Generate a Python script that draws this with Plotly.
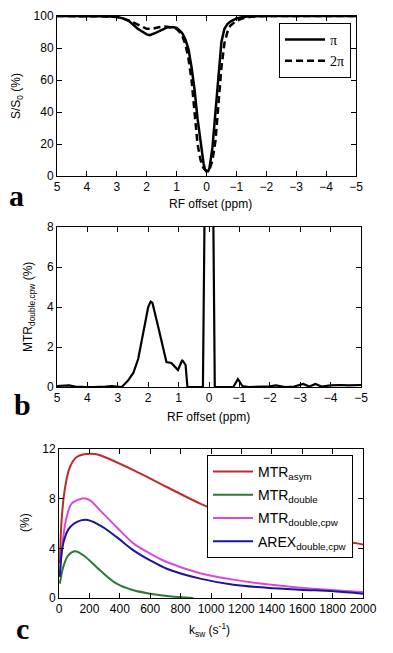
import plotly.graph_objects as go

# ---------- Panel a: Z-spectra ----------
a_ppm_pi = [5, 4, 3.5, 3.0, 2.8, 2.6, 2.3, 2.0, 1.9, 1.7, 1.5, 1.3, 1.1, 1.0, 0.9, 0.8, 0.7,
            0.6, 0.5, 0.4, 0.3, 0.2, 0.1, 0.05, 0.0, -0.05, -0.1, -0.2, -0.3, -0.4, -0.5,
            -0.6, -0.7, -0.8, -1.0, -1.2, -1.5, -2.0, -3.0, -4.0, -5.0]
a_val_pi = [100, 100, 99.8, 99.5, 98.5, 97, 92, 88.5, 88, 89.5, 91.5, 93, 93, 92.5, 91, 89, 85,
            79, 68, 54, 36, 20, 8, 4, 3, 3, 5, 18, 40, 65, 84,
            92, 95, 96.5, 98.5, 99.3, 99.8, 100, 100, 100, 100]
a_ppm_2pi = [5, 4, 3.5, 3.0, 2.8, 2.5, 2.2, 2.0, 1.8, 1.6, 1.4, 1.2, 1.0, 0.9, 0.8, 0.7, 0.6,
             0.5, 0.4, 0.3, 0.2, 0.1, 0.0, -0.1, -0.2, -0.3, -0.4, -0.5, -0.6, -0.7, -0.8,
             -1.0, -1.2, -1.5, -2.0, -3.0, -4.0, -5.0]
a_val_2pi = [100, 100, 99.8, 99.3, 98.5, 96.5, 93.5, 92, 92, 93, 93.5, 93, 92, 90, 87, 82, 73,
             60, 40, 20, 10, 5, 3, 4, 10, 22, 45, 68, 83, 90, 94,
             97, 98.5, 99.5, 100, 100, 100, 100]

# ---------- Panel b: MTR_double,cpw ----------
b_ppm = [5.0, 4.8, 4.6, 4.4, 4.2, 4.0, 3.8, 3.6, 3.4, 3.2, 3.0, 2.87, 2.66, 2.49, 2.33, 2.16,
         2.0, 1.92, 1.86, 1.67, 1.4, 1.24, 1.02, 0.88, 0.77, 0.71, 0.5, 0.3, 0.2, 0.1, 0.0,
         -0.1, -0.19, -0.5, -0.8, -0.95, -1.1, -1.3, -1.6, -2.0, -2.2, -2.5, -2.8, -3.0,
         -3.1, -3.3, -3.5, -3.7, -4.0, -4.3, -4.6, -5.0]
b_val = [0.05, 0.05, 0.08, 0.02, 0.0, 0.0, 0.0, 0.0, 0.02, 0.05, 0.03, 0.0, 0.33, 0.7, 1.4, 2.85,
         4.0, 4.27, 4.2, 3.0, 1.25, 1.2, 0.85, 1.35, 1.1, 0.0, 0.0, 0.0, 0.0, 16, 20,
         16, 0.0, 0.0, 0.0, 0.4, 0.05, 0.0, 0.0, 0.03, 0.08, 0.0, 0.02, 0.1,
         0.15, 0.02, 0.15, 0.02, 0.08, 0.1, 0.08, 0.1]

# ---------- Panel c: simulations vs k_sw ----------
c_k_asym = [6, 17, 40, 72, 116, 182, 237, 270, 490, 709, 929, 1000, 1200, 1400, 1600, 1800, 1960, 2000]
c_asym = [2.77, 6.25, 8.9, 10.55, 11.35, 11.6, 11.6, 11.5, 10.3, 8.94, 7.6, 7.25, 6.4, 5.7, 5.15, 4.7, 4.4, 4.3]
c_k_double = [6, 28, 61, 105, 160, 270, 380, 490, 600, 709, 885]
c_double = [1.15, 2.5, 3.44, 3.76, 3.44, 2.23, 1.15, 0.62, 0.35, 0.16, 0.0]
c_k_cpw = [6, 28, 50, 83, 149, 160, 204, 270, 380, 490, 600, 709, 929, 1148, 1368, 1587, 1807, 2000]
c_cpw = [1.96, 4.9, 6.5, 7.6, 8.0, 8.03, 7.87, 7.06, 5.7, 4.4, 3.57, 2.9, 2.0, 1.48, 1.1, 0.83, 0.62, 0.48]
c_k_arex = [6, 28, 72, 171, 270, 380, 490, 600, 709, 929, 1148, 1368, 1587, 1807, 2000]
c_arex = [1.7, 4.4, 5.7, 6.3, 5.85, 4.9, 3.84, 3.03, 2.36, 1.56, 1.07, 0.83, 0.67, 0.54, 0.35]

# The page body adds an 8 px margin, so the figure is made smaller and
# positions are given in window pixels minus that offset.
OFF = 8
W, H = 393 - 2 * OFF, 653 - 2 * OFF
FONT = "Liberation Sans, Arial, sans-serif"
SERIF = "Liberation Serif, Times New Roman, serif"


def px(x):
    return (x - OFF) / W


def py(y):
    return 1 - (y - OFF) / H


def dom_x(p0, p1):
    return [px(p0), px(p1)]


def dom_y(top, bottom):
    return [py(bottom), py(top)]


fig = go.Figure()
fig.add_trace(go.Scatter(x=a_ppm_pi, y=a_val_pi, mode="lines", name="π",
                         line=dict(color="black", width=2.5), xaxis="x", yaxis="y",
                         legend="legend", legendgroup="g1"))
fig.add_trace(go.Scatter(x=a_ppm_2pi, y=a_val_2pi, mode="lines", name="2π",
                         line=dict(color="black", width=2.5, dash="7px,4px"), xaxis="x", yaxis="y",
                         legend="legend", legendgroup="g2"))
fig.add_trace(go.Scatter(x=b_ppm, y=b_val, mode="lines", showlegend=False,
                         line=dict(color="black", width=2.2), xaxis="x2", yaxis="y2"))

c_series = [
    (c_k_asym, c_asym, "MTR<sub>asym</sub>", "#bf2a2e"),
    (c_k_double, c_double, "MTR<sub>double</sub>", "#2b7a34"),
    (c_k_cpw, c_cpw, "MTR<sub>double,cpw</sub>", "#d84ad8"),
    (c_k_arex, c_arex, "AREX<sub>double,cpw</sub>", "#18189a"),
]
for i, (kx, vy, nm, col) in enumerate(c_series):
    fig.add_trace(go.Scatter(x=kx, y=vy, mode="lines", name=nm,
                             line=dict(color=col, width=2, shape="spline"),
                             xaxis="x3", yaxis="y3", legend="legend2", legendgroup="c%d" % i))

axis_common = dict(showline=True, linecolor="black", linewidth=1, mirror="ticks", ticks="inside",
                   ticklen=5, tickcolor="black", showgrid=False, zeroline=False, automargin=False,
                   tickangle=0,
                   tickfont=dict(family=FONT, size=12, color="black"))

fig.update_layout(
    width=W, height=H, margin=dict(l=0, r=0, t=0, b=0, pad=0, autoexpand=False),
    paper_bgcolor="white", plot_bgcolor="white",
    showlegend=True,
    xaxis=dict(domain=dom_x(57, 356), range=[5, -5], tickvals=[5, 4, 3, 2, 1, 0, -1, -2, -3, -4, -5],
               anchor="y", **axis_common),
    yaxis=dict(domain=dom_y(16, 176), range=[0, 100], tickvals=[0, 20, 40, 60, 80, 100],
               anchor="x", **axis_common),
    xaxis2=dict(domain=dom_x(57, 361), range=[5, -5], tickvals=[5, 4, 3, 2, 1, 0, -1, -2, -3, -4, -5],
                anchor="y2", **axis_common),
    yaxis2=dict(domain=dom_y(227, 387), range=[0, 8], tickvals=[0, 2, 4, 6, 8],
                anchor="x2", **axis_common),
    xaxis3=dict(domain=dom_x(59, 363), range=[0, 2000], tickvals=list(range(0, 2001, 200)),
                anchor="y3", **axis_common),
    yaxis3=dict(domain=dom_y(449, 598), range=[0, 12], tickvals=[0, 4, 8, 12],
                anchor="x3", **axis_common),
    legend=dict(x=px(279), y=py(23), xanchor="left", yanchor="top",
                bgcolor="white", bordercolor="black", borderwidth=1,
                font=dict(family=SERIF, size=14, color="black"),
                tracegroupgap=0, itemwidth=40),
    legend2=dict(x=px(207), y=py(455), xanchor="left", yanchor="top",
                 bgcolor="white", bordercolor="black", borderwidth=1,
                 font=dict(family=FONT, size=14, color="black"),
                 tracegroupgap=2, itemwidth=40),
)

ann = []
lab_font = dict(family=SERIF, size=30, color="black")
for txt, x, y in [("<b>a</b>", 16, 195), ("<b>b</b>", 22, 404), ("<b>c</b>", 22, 628)]:
    ann.append(dict(text=txt, x=px(x), y=py(y), xref="paper", yref="paper",
                    showarrow=False, xanchor="center", yanchor="middle", font=lab_font))
tfont = dict(family=FONT, size=12, color="black")
for txt, x, y in [("RF offset (ppm)", 210, 204), ("RF offset (ppm)", 208, 417),
                  ("k<sub>sw</sub> (s<sup>-1</sup>)", 209, 630)]:
    ann.append(dict(text=txt, x=px(x), y=py(y), xref="paper", yref="paper",
                    showarrow=False, xanchor="center", yanchor="middle", font=tfont))
for txt, x, y in [("S/S<sub>0</sub> (%)", 17, 96), ("MTR<sub>double,cpw</sub> (%)", 29, 307),
                  ("(%)", 25, 523)]:
    ann.append(dict(text=txt, x=px(x), y=py(y), xref="paper", yref="paper",
                    showarrow=False, xanchor="center", yanchor="middle", textangle=-90, font=tfont))
fig.update_layout(annotations=ann)

fig.write_html("out.html")
